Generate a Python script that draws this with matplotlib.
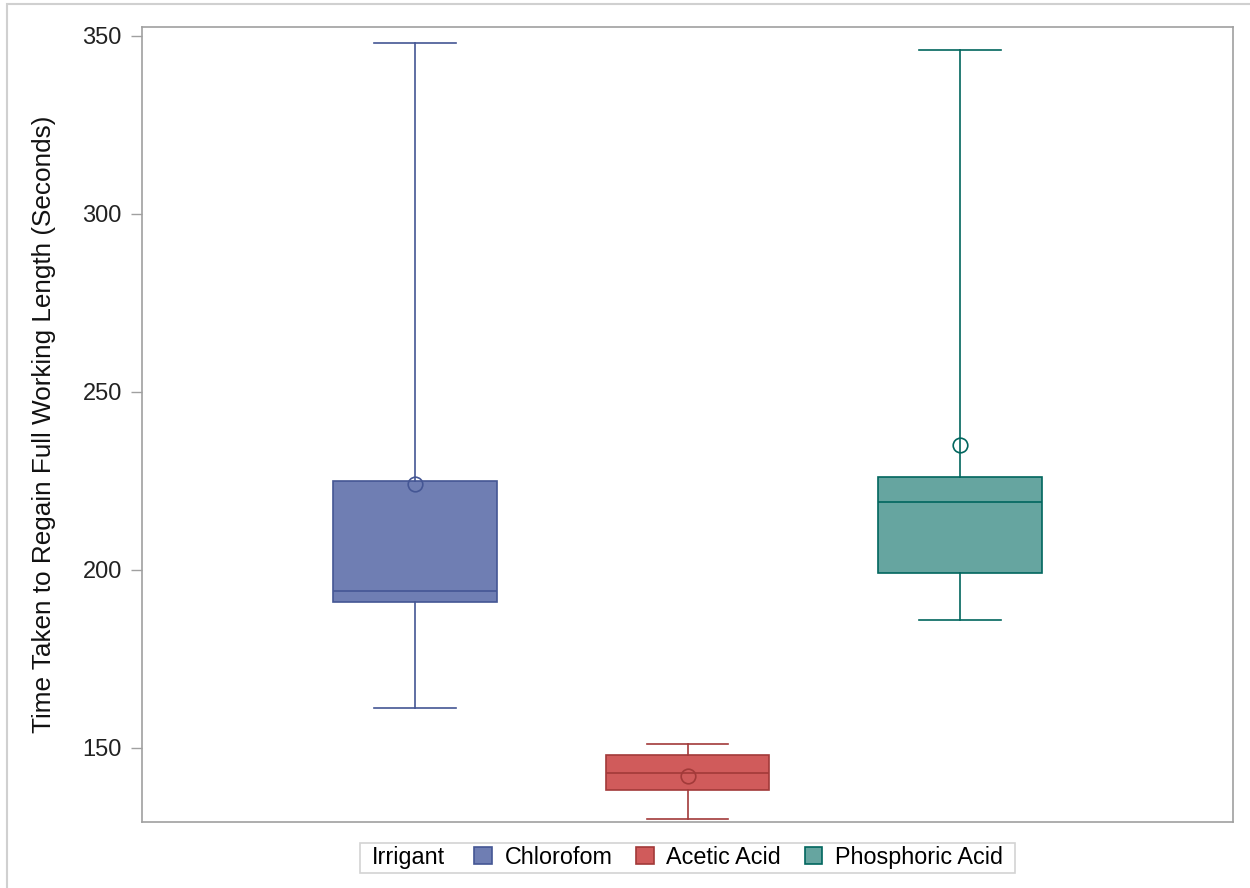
import matplotlib
matplotlib.use("Agg")
import matplotlib.pyplot as plt
from matplotlib.patches import Patch, Rectangle
from matplotlib.offsetbox import HPacker, DrawingArea

plt.rcParams['font.family'] = ['Liberation Sans', 'DejaVu Sans']

# values
groups = ["Chlorofom", "Acetic Acid", "Phosphoric Acid"]
whis_low = [161, 130, 186]
q1 = [191, 138, 199]
median = [194, 143, 219]
q3 = [225, 148, 226]
whis_high = [348, 151, 346]
means = [224, 142, 235]
yticks = [150, 200, 250, 300, 350]

fill_colors = ["#6F7EB3", "#D05B5B", "#66A5A0"]
edge_colors = ["#445694", "#A23A39", "#01665E"]

fig = plt.figure(figsize=(12.5, 8.88), dpi=100)
ax = fig.add_axes([142/1250, 1 - 822/888, 1091/1250, 795/888])

for i, name in enumerate(groups):
    stats = [dict(label=name, whislo=whis_low[i], q1=q1[i], med=median[i],
                  q3=q3[i], whishi=whis_high[i], mean=means[i], fliers=[])]
    ec = edge_colors[i]
    ax.bxp(stats, positions=[i + 1], widths=0.6, capwidths=0.3,
           showmeans=True, patch_artist=True, manage_ticks=False,
           boxprops=dict(facecolor=fill_colors[i], edgecolor=ec, linewidth=1.2),
           medianprops=dict(color=ec, linewidth=1.2),
           whiskerprops=dict(color=ec, linewidth=1.2),
           capprops=dict(color=ec, linewidth=1.2),
           meanprops=dict(marker='o', markersize=10.5, markerfacecolor='none',
                          markeredgecolor=ec, markeredgewidth=1.2))

ax.set_xlim(0, 4)
ax.set_ylim(129.1, 352.5)
ax.set_xticks([])
ax.set_yticks(yticks)
ax.tick_params(axis='y', direction='out', length=8, width=1, color='#A0A0A0',
               labelsize=17, pad=6.5, labelcolor='#222222')
for s in ax.spines.values():
    s.set_color('#A0A0A0')
    s.set_linewidth(1.2)

ax.set_ylabel("Time Taken to Regain Full Working Length (Seconds)", fontsize=18.8,
              color='#111111')
ax.yaxis.set_label_coords(-0.079, 0.5)

# legend with the title placed on the same row as the entries
handles = [Patch(facecolor=fill_colors[i], edgecolor=edge_colors[i], linewidth=1.2)
           for i in range(len(groups))]
leg = fig.legend(handles, groups, title="Irrigant", ncol=3, loc='center',
                 bbox_to_anchor=(687.5/1250, 1 - 857.5/888), fontsize=16.8,
                 title_fontsize=16.8, frameon=True, fancybox=False,
                 edgecolor='#C8C8C8', handlelength=0.75, handleheight=0.75,
                 handletextpad=0.55, columnspacing=0.9, borderpad=0.15,
                 borderaxespad=0)
leg.get_frame().set_linewidth(1.2)
c = leg.get_children()[0]
title_box = c.get_children()[0]
hpack = c.get_children()[1]
title_row = HPacker(children=[title_box, DrawingArea(4, 1)], pad=0, sep=0)
hpack._children = [title_row] + hpack.get_children()
hpack.sep = 17
# extra side padding inside the frame
c._children = [HPacker(children=[DrawingArea(6, 1), hpack, DrawingArea(6, 1)],
                       pad=0, sep=0, align='center')]

# light outer frame like the original export
fig.patches.append(Rectangle((7/1250, -0.1), 1.2, 1 - 4/888 + 0.1, transform=fig.transFigure,
                             fill=False, edgecolor='#D0D0D0', linewidth=1.5))

fig.savefig("out.png", dpi=100)
